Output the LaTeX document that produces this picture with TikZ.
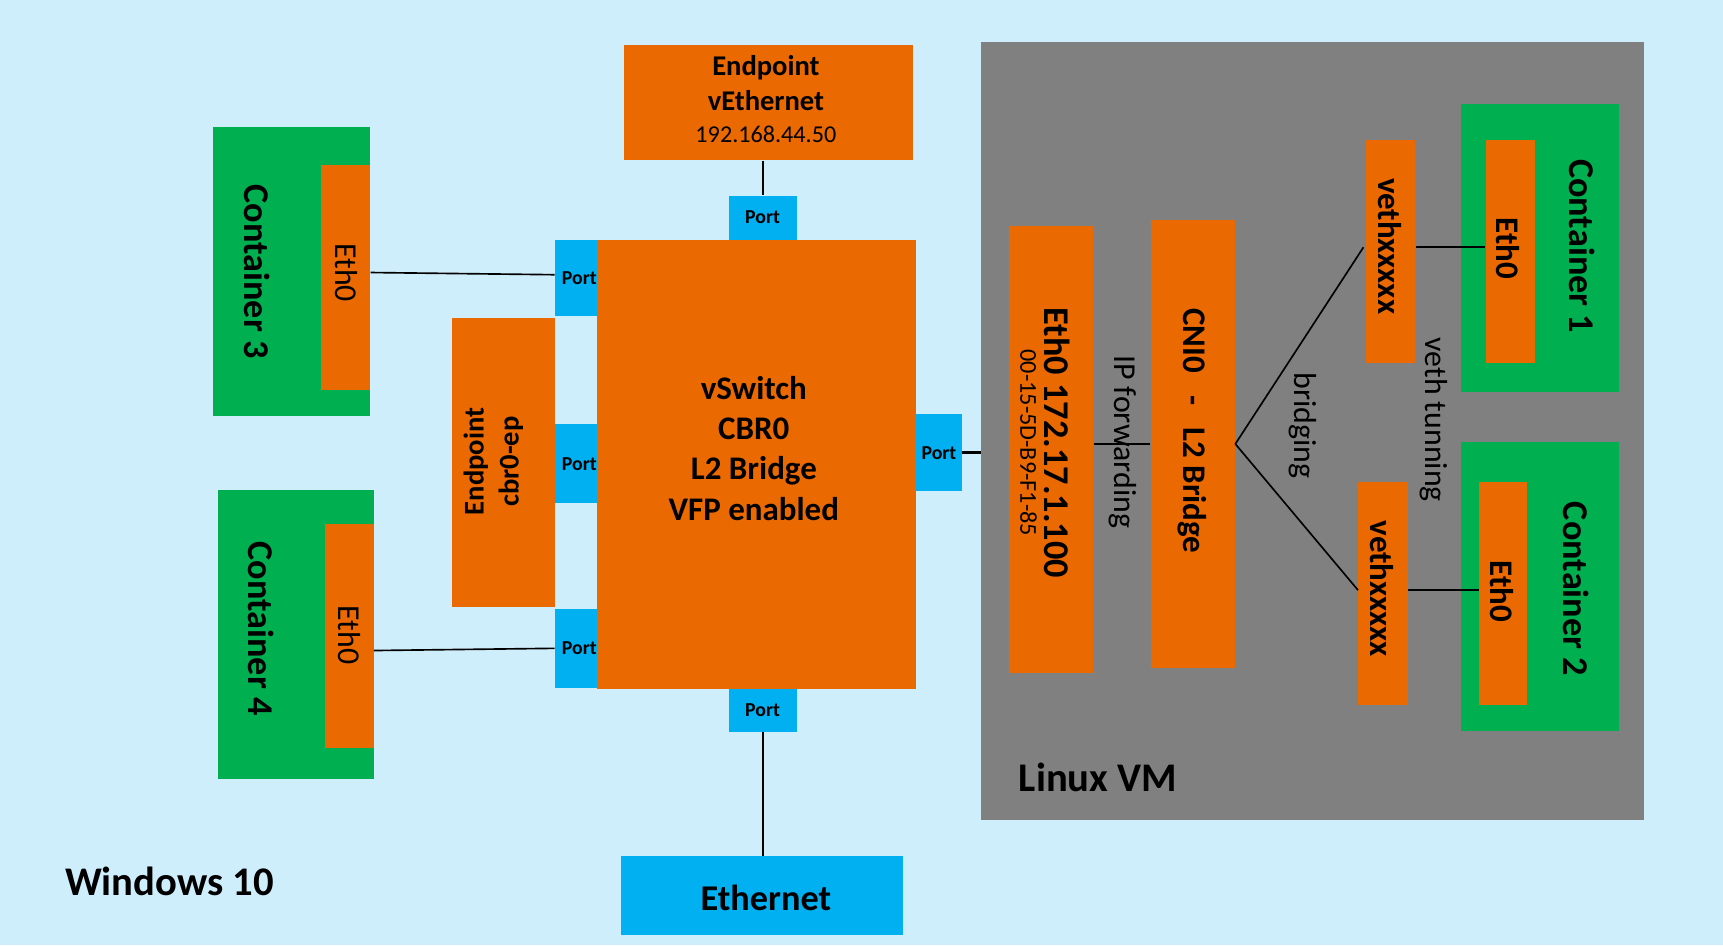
\documentclass[tikz,border=0pt]{standalone}
\usepackage{fontspec}
\setmainfont{Carlito}
\definecolor{bgc}{RGB}{207,238,251}
\definecolor{orng}{RGB}{234,105,0}
\definecolor{grn}{RGB}{0,176,80}
\definecolor{blu}{RGB}{0,176,240}
\definecolor{gry}{RGB}{128,128,128}
\newcommand{\fs}[1]{\fontsize{#1}{\fpeval{1.22*#1}}\selectfont}
\tikzset{
  box/.style 2 args={draw=none,inner sep=0pt,minimum width=#1pt,minimum height=#2pt,anchor=center},
  obox/.style 2 args={box={#1}{#2},fill=orng},
  gbox/.style 2 args={box={#1}{#2},fill=grn},
  pbox/.style 2 args={box={#1}{#2},fill=blu,font=\fs{18}\bfseries},
  lbl/.style={inner sep=0pt,align=center,text=black},
  wire/.style={line width=1.5pt,draw=black},
}
\begin{document}
\begin{tikzpicture}[x=1pt,y=-1pt]
\fill[bgc] (0,0) rectangle (1568,860);
\useasboundingbox (0,0) rectangle (1568,860);
% Linux VM
\node[box={603}{708},fill=gry] (vm) at (1194.5,392) {};
\node[lbl,anchor=west,font=\fs{37}\bfseries] (vmt) at (927,707) {Linux VM};
% Windows side
\node[obox={263}{105}] (veth) at (699.5,93.5) {};
\node[lbl,font=\fs{26}] (vetht) at (697,90) {\textbf{Endpoint}\\\textbf{vEthernet}\\[-3pt]{\fs{22}192.168.44.50}};
\node[pbox={62}{40}] (ptop) at (694,198) {Port};
\node[obox={291}{409}] (vsw) at (688.5,422.5) {};
\node[lbl,font=\fs{30}\bfseries] (vswt) at (686,408) {vSwitch\\CBR0\\L2 Bridge\\VFP enabled};
\node[pbox={38}{70},text width=38pt,align=right] (p1) at (524,253) {Port};
\node[pbox={38}{72},text width=38pt,align=right] (p2) at (524,422) {Port};
\node[pbox={38}{72},text width=38pt,align=right] (p3) at (524,590) {Port};
\node[obox={94}{263}] (cbr) at (458,420.5) {};
\node[lbl,rotate=90,font=\fs{26}\bfseries] (cbrt) at (449,420) {Endpoint\\cbr0-ep};
\node[pbox={62}{39}] (pbot) at (694,646.5) {Port};
\node[box={257}{72},fill=blu] (eth) at (693.5,815) {};
\node[lbl,font=\fs{33}\bfseries] (etht) at (697,817) {Ethernet};
\node[pbox={41}{70}] (pr) at (854.5,412) {Port};
% containers 3 and 4
\node[gbox={143}{263}] (c3) at (265.5,247.5) {};
\node[obox={45}{205}] (e3) at (314.5,252.5) {};
\node[lbl,rotate=-90,font=\fs{33}\bfseries] (c3t) at (234,247) {Container 3};
\node[lbl,rotate=-90,font=\fs{29}] (e3t) at (315,248) {Eth0};
\node[gbox={142}{263}] (c4) at (269,577.5) {};
\node[obox={44}{204}] (e4) at (318,579) {};
\node[lbl,rotate=-90,font=\fs{33}\bfseries] (c4t) at (238,572) {Container 4};
\node[lbl,rotate=-90,font=\fs{29}] (e4t) at (318,578) {Eth0};
\node[lbl,anchor=west,font=\fs{37}\bfseries] (win) at (59,802) {Windows 10};
% Linux VM internals
\node[obox={77}{406}] (evm) at (956.5,409) {};
\node[lbl,rotate=-90,font=\fs{22}] (evmt) at (951,403) {{\fs{33}\bfseries Eth0 172.17.1.100}\\[-5pt]{00-15-5D-B9-F1-85}};
\node[obox={77}{408}] (cni) at (1085.5,404) {};
\node[lbl,rotate=-90,font=\fs{30}\bfseries] (cnit) at (1085,392) {CNI0~~~-~~~L2 Bridge};
\node[obox={45}{203}] (v1) at (1265.5,228.5) {};
\node[lbl,rotate=-90,font=\fs{30}\bfseries] (v1t) at (1265,224) {vethxxxxx};
\node[obox={45}{203}] (v2) at (1258.5,540.5) {};
\node[lbl,rotate=-90,font=\fs{30}\bfseries] (v2t) at (1258,536) {vethxxxxx};
\node[gbox={143}{262}] (c1) at (1401.5,226) {};
\node[obox={45}{203}] (e1) at (1374.5,228.5) {};
\node[lbl,rotate=-90,font=\fs{33}\bfseries] (c1t) at (1440,224) {Container 1};
\node[lbl,rotate=-90,font=\fs{30}\bfseries] (e1t) at (1372,226) {Eth0};
\node[gbox={143}{263}] (c2) at (1401.5,533.5) {};
\node[obox={44}{203}] (e2) at (1368,540.5) {};
\node[lbl,rotate=-90,font=\fs{33}\bfseries] (c2t) at (1434,536) {Container 2};
\node[lbl,rotate=-90,font=\fs{30}\bfseries] (e2t) at (1367,538) {Eth0};
% labels on connectors
\node[lbl,rotate=-90,font=\fs{29}] (ipf) at (1022,402) {IP forwarding};
\node[lbl,rotate=-90,font=\fs{29}] (brg) at (1186,387) {bridging};
\node[lbl,rotate=-90,font=\fs{29}] (vtn) at (1305,382) {veth tunning};
% connectors
\draw[line width=2pt] (ptop.north |- veth.south) -- (ptop.north);
\draw[line width=2pt] (pbot.south) -- (pbot.south |- eth.north);
\draw[wire] ([yshift=4.5pt]e3.east) -- ([yshift=3pt]p1.west);
\draw[wire] ([yshift=-13pt]e4.east) -- (p3.west);
\draw[line width=3pt] (pr.east) -- (vm.west |- pr.east);
\draw[wire] ([yshift=5pt]evm.east) -- (cni.west);
\draw[wire] (cni.east) -- ([yshift=3.5pt,xshift=-2pt]v1.west);
\draw[wire] (cni.east) -- ([yshift=3.5pt]v2.west);
\draw[wire] ([yshift=3.5pt]v1.east) -- ([yshift=3.5pt]e1.west);
\draw[wire] ([yshift=3.5pt]v2.east) -- ([yshift=3.5pt]e2.west);
\end{tikzpicture}
\end{document}
